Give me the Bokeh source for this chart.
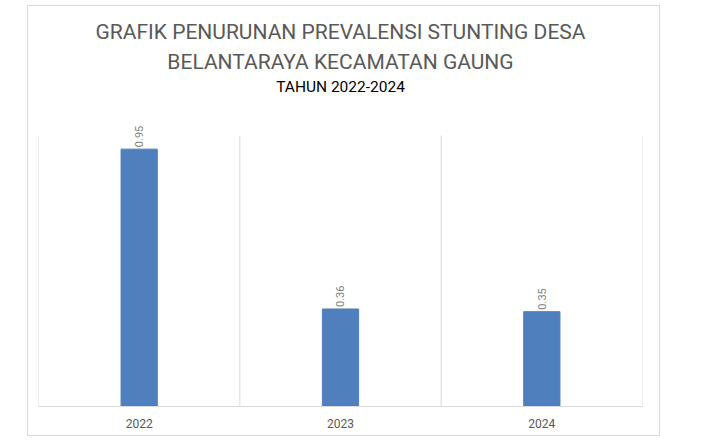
from bokeh.plotting import figure
from bokeh.models import ColumnDataSource, Title, FixedTicker, LabelSet, Spacer
from bokeh.layouts import row, column
from bokeh.core.properties import value
from bokeh.embed import file_html
from bokeh.resources import INLINE
import math

categories = ["2022", "2023", "2024"]
values = [0.95, 0.36, 0.35]
value_labels = ["0.95", "0.36", "0.35"]
axis_max = 1.0

title_line1 = "GRAFIK PENURUNAN PREVALENSI STUNTING DESA"
title_line2 = "BELANTARAYA KECAMATAN GAUNG"
title_line3 = "TAHUN 2022-2024"

xs = list(range(len(categories)))
src = ColumnDataSource(dict(x=xs, top=values, lab=value_labels))
bounds = [i - 0.5 for i in range(len(categories) + 1)]

p = figure(width=633, height=431, output_backend="svg", toolbar_location=None,
           x_range=(-0.5, len(categories) - 0.5), y_range=(0, axis_max * 1.1),
           min_border_left=10, min_border_right=19, min_border_bottom=31, min_border_top=102)
p.outline_line_color = None
p.background_fill_color = "white"
p.border_fill_color = "white"

# titles (last added is outermost)
p.add_layout(Title(text=" ", text_font_size="10px", align="center", standoff=0), "above")
p.add_layout(Title(text=title_line3, text_font="Roboto", text_font_size="15.5px", standoff=0,
                   text_font_style="normal", text_color="#000000", align="center", offset=8), "above")
p.add_layout(Title(text=title_line2, text_font="Roboto", text_font_size="21px", standoff=4,
                   text_font_style="normal", text_color="#595959", align="center", offset=8), "above")
p.add_layout(Title(text=title_line1, text_font="Roboto", text_font_size="21px", standoff=3,
                   text_font_style="normal", text_color="#595959", align="center", offset=8), "above")

p.segment(x0=bounds, x1=bounds, y0=[0] * len(bounds), y1=[axis_max] * len(bounds),
          line_color="#D9D9D9", line_width=1)
p.vbar(x="x", top="top", width=0.18, bottom=0, source=src, color="#4F7FBD")

labels = LabelSet(x="x", y="top", text="lab", source=src, angle=math.pi / 2,
                  text_align="left", text_baseline="middle", y_offset=2,
                  text_font=value("Roboto"), text_font_size=value("11px"), text_color=value("#7F7F7F"))
p.add_layout(labels)

p.yaxis.visible = False
p.ygrid.visible = False
p.xgrid.visible = False

p.xaxis.ticker = FixedTicker(ticks=xs)
p.xaxis.major_label_overrides = {i: c for i, c in zip(xs, categories)}
p.xaxis.major_tick_line_color = None
p.xaxis.minor_tick_line_color = None
p.xaxis.axis_line_color = "#D9D9D9"
p.xaxis.major_label_text_font = "Roboto"
p.xaxis.major_label_text_font_size = "12px"
p.xaxis.major_label_text_color = "#595959"
p.xaxis.major_label_standoff = 6

p.styles = {"border": "1px solid #D9D9D9"}

layout = column(Spacer(width=10, height=5), row(Spacer(width=27, height=10), p))
open("out.html", "w").write(file_html(layout, INLINE))
